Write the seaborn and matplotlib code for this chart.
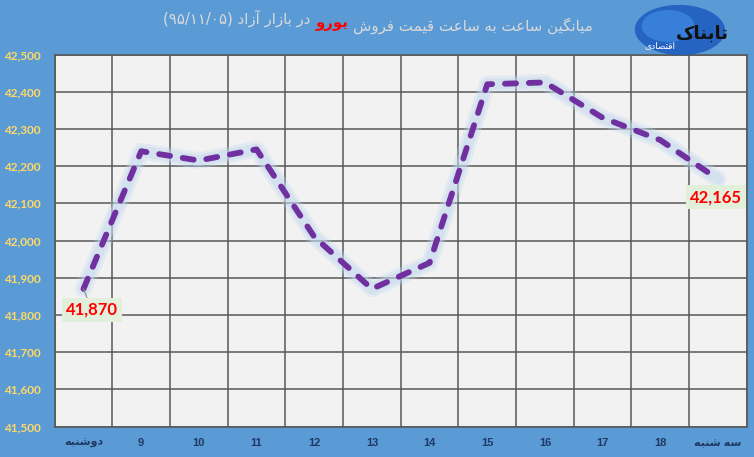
import matplotlib
matplotlib.use("Agg")
import matplotlib.pyplot as plt
from matplotlib.patches import Ellipse
from matplotlib.ticker import FixedLocator, FuncFormatter
import seaborn as sns
import numpy as np

# ---------------- data ----------------
categories = ["دوشنبه", "9", "10", "11", "12", "13", "14", "15", "16", "17", "18", "سه شنبه"]
prices = [41870, 42240, 42215, 42245, 42010, 41870, 41940, 42420, 42425, 42330, 42270, 42165]
y_ticks = [41500, 41600, 41700, 41800, 41900, 42000, 42100, 42200, 42300, 42400, 42500]
title_part1 = "میانگین ساعت به ساعت قیمت فروش"
title_part2 = "یورو"
title_part3 = "در بازار آزاد"
title_date = "(۹۵/۱۱/۰۵)"
logo_main = "تابناک"
logo_sub = "اقتصادی"

# ------------- simple Arabic-script shaping (presentation forms) -------------
FORMS = {
    'ا': ('\uFE8D', '\uFE8E', None, None),
    'آ': ('\uFE81', '\uFE82', None, None),
    'ب': ('\uFE8F', '\uFE90', '\uFE91', '\uFE92'),
    'ت': ('\uFE95', '\uFE96', '\uFE97', '\uFE98'),
    'د': ('\uFEA9', '\uFEAA', None, None),
    'ر': ('\uFEAD', '\uFEAE', None, None),
    'ز': ('\uFEAF', '\uFEB0', None, None),
    'س': ('\uFEB1', '\uFEB2', '\uFEB3', '\uFEB4'),
    'ش': ('\uFEB5', '\uFEB6', '\uFEB7', '\uFEB8'),
    'ص': ('\uFEB9', '\uFEBA', '\uFEBB', '\uFEBC'),
    'ع': ('\uFEC9', '\uFECA', '\uFECB', '\uFECC'),
    'ف': ('\uFED1', '\uFED2', '\uFED3', '\uFED4'),
    'ق': ('\uFED5', '\uFED6', '\uFED7', '\uFED8'),
    'م': ('\uFEE1', '\uFEE2', '\uFEE3', '\uFEE4'),
    'ن': ('\uFEE5', '\uFEE6', '\uFEE7', '\uFEE8'),
    'ه': ('\uFEE9', '\uFEEA', '\uFEEB', '\uFEEC'),
    'و': ('\uFEED', '\uFEEE', None, None),
    'ی': ('\uFBFC', '\uFBFD', '\uFBFE', '\uFBFF'),
    'گ': ('\uFB92', '\uFB93', '\uFB94', '\uFB95'),
    'ک': ('\uFB8E', '\uFB8F', '\uFB90', '\uFB91'),
}


def rtl(s):
    if not any(c in FORMS for c in s):
        return s
    out = []
    for i, c in enumerate(s):
        if c not in FORMS:
            out.append(c)
            continue
        iso, fin, ini, med = FORMS[c]
        prev = s[i - 1] if i > 0 else ''
        nxt = s[i + 1] if i + 1 < len(s) else ''
        jp = prev in FORMS and FORMS[prev][2] is not None
        jn = ini is not None and nxt in FORMS
        if jp and jn:
            out.append(med)
        elif jp:
            out.append(fin)
        elif jn:
            out.append(ini)
        else:
            out.append(iso)
    return ''.join(out)[::-1]


# ---------------- figure ----------------
sns.set_style("white")
plt.rcParams['font.family'] = ['DejaVu Sans']

BG = '#5B9BD5'
fig = plt.figure(figsize=(7.54, 4.57), dpi=100, facecolor=BG)
ax = fig.add_axes([0.0725, 0.0667, 0.918, 0.814])
ax.set_facecolor('#F2F2F2')

x = np.arange(len(categories))

# soft glow under the line
sns.lineplot(x=x, y=prices, ax=ax, color='#BDD7EE', lw=12, alpha=0.3,
             solid_capstyle='round', solid_joinstyle='round', zorder=3)
sns.lineplot(x=x, y=prices, ax=ax, color='#C5DBF2', lw=8, alpha=0.45,
             solid_capstyle='round', solid_joinstyle='round', zorder=3)
# dashed purple line
sns.lineplot(x=x, y=prices, ax=ax, color='#7030A0', lw=4.2,
             linestyle=(0, (1.9, 2.2)), dash_capstyle='round',
             dash_joinstyle='round', zorder=4)

ax.set_xlim(-0.5, len(categories) - 0.5)
ax.set_ylim(y_ticks[0], y_ticks[-1])
ax.set_xlabel('')
ax.set_ylabel('')

ax.yaxis.set_major_locator(FixedLocator(y_ticks))
ax.yaxis.set_major_formatter(FuncFormatter(lambda v, p: f"{int(v):,}"))
ax.set_xticks(x)
ax.set_xticklabels([rtl(c) for c in categories])
ax.set_xticks(np.arange(len(categories) + 1) - 0.5, minor=True)

ax.grid(False)
ax.yaxis.grid(True, which='major', color='#595959', lw=1.1)
ax.xaxis.grid(True, which='minor', color='#595959', lw=1.1)
ax.set_axisbelow(True)
for sp in ax.spines.values():
    sp.set_color('#595959')
    sp.set_linewidth(1.2)
    sp.set_visible(True)

ax.tick_params(axis='both', which='both', length=0)
ax.tick_params(axis='y', pad=10)
ax.tick_params(axis='x', pad=8.5)
for lab in ax.get_yticklabels():
    lab.set_color('#FFD966')
    lab.set_fontsize(8.5)
    lab.set_fontweight('bold')
    lab.set_family(['Lato', 'DejaVu Sans'])
for lab in ax.get_xticklabels():
    lab.set_color('#1F3864')
    lab.set_fontsize(8)
    lab.set_fontweight('bold')
    lab.set_family(['Liberation Sans', 'DejaVu Sans'])

# data labels
lab_style = dict(color='#FF0000', fontsize=12, fontweight='bold',
                 family=['Lato', 'DejaVu Sans'], ha='center', va='center',
                 bbox=dict(boxstyle='square,pad=0.25', fc='#E2EFDA', ec='none'),
                 zorder=6)
ax.annotate(f"{prices[0]:,}", xy=(x[0], prices[0]), xytext=(6, -15),
            textcoords='offset points',
            arrowprops=dict(arrowstyle='-', color='#8C8C8C', lw=0.8,
                            shrinkA=0, shrinkB=0),
            **lab_style)
ax.annotate(f"{prices[-1]:,}", xy=(x[-1], prices[-1]), xytext=(-1.5, -13),
            textcoords='offset points', **lab_style)

# title (built in visual left-to-right order)
tfont = dict(family=['DejaVu Sans'], fontsize=10.8, va='baseline')
t1 = fig.text(163 / 754, 1 - 24 / 457, title_date + " " + rtl(title_part3),
              color='#D9D9D9', ha='left', **tfont)
t2 = ax.annotate(rtl(title_part2), xy=(1, 0), xycoords=t1, xytext=(3.5, 0),
                 textcoords='offset points', color='#FF0000',
                 fontweight='bold', ha='left', annotation_clip=False, **tfont)
t3 = ax.annotate(rtl(title_part1), xy=(1, 0), xycoords=t2, xytext=(3.5, 0),
                 textcoords='offset points', color='#D9D9D9', ha='left',
                 annotation_clip=False, **tfont)

# logo
fig.add_artist(Ellipse((680 / 754, 1 - 30 / 457), 0.12, 0.11, angle=-8,
                       transform=fig.transFigure, fc='#1F5FBF', ec='none',
                       alpha=0.9, zorder=5))
fig.add_artist(Ellipse((668 / 754, 1 - 26 / 457), 0.07, 0.07, angle=-8,
                       transform=fig.transFigure, fc='#3C86E0', ec='none',
                       alpha=0.8, zorder=5))
fig.text(702 / 754, 1 - 34 / 457, rtl(logo_main), color='#111111',
         fontsize=13, fontweight='bold', ha='center',
         va='center', family=['DejaVu Sans'], zorder=6)
fig.text(660 / 754, 1 - 46 / 457, rtl(logo_sub), color='white',
         fontsize=6.5, ha='center', va='center', family=['DejaVu Sans'], zorder=6)

fig.savefig('out.png', dpi=100, facecolor=BG)
